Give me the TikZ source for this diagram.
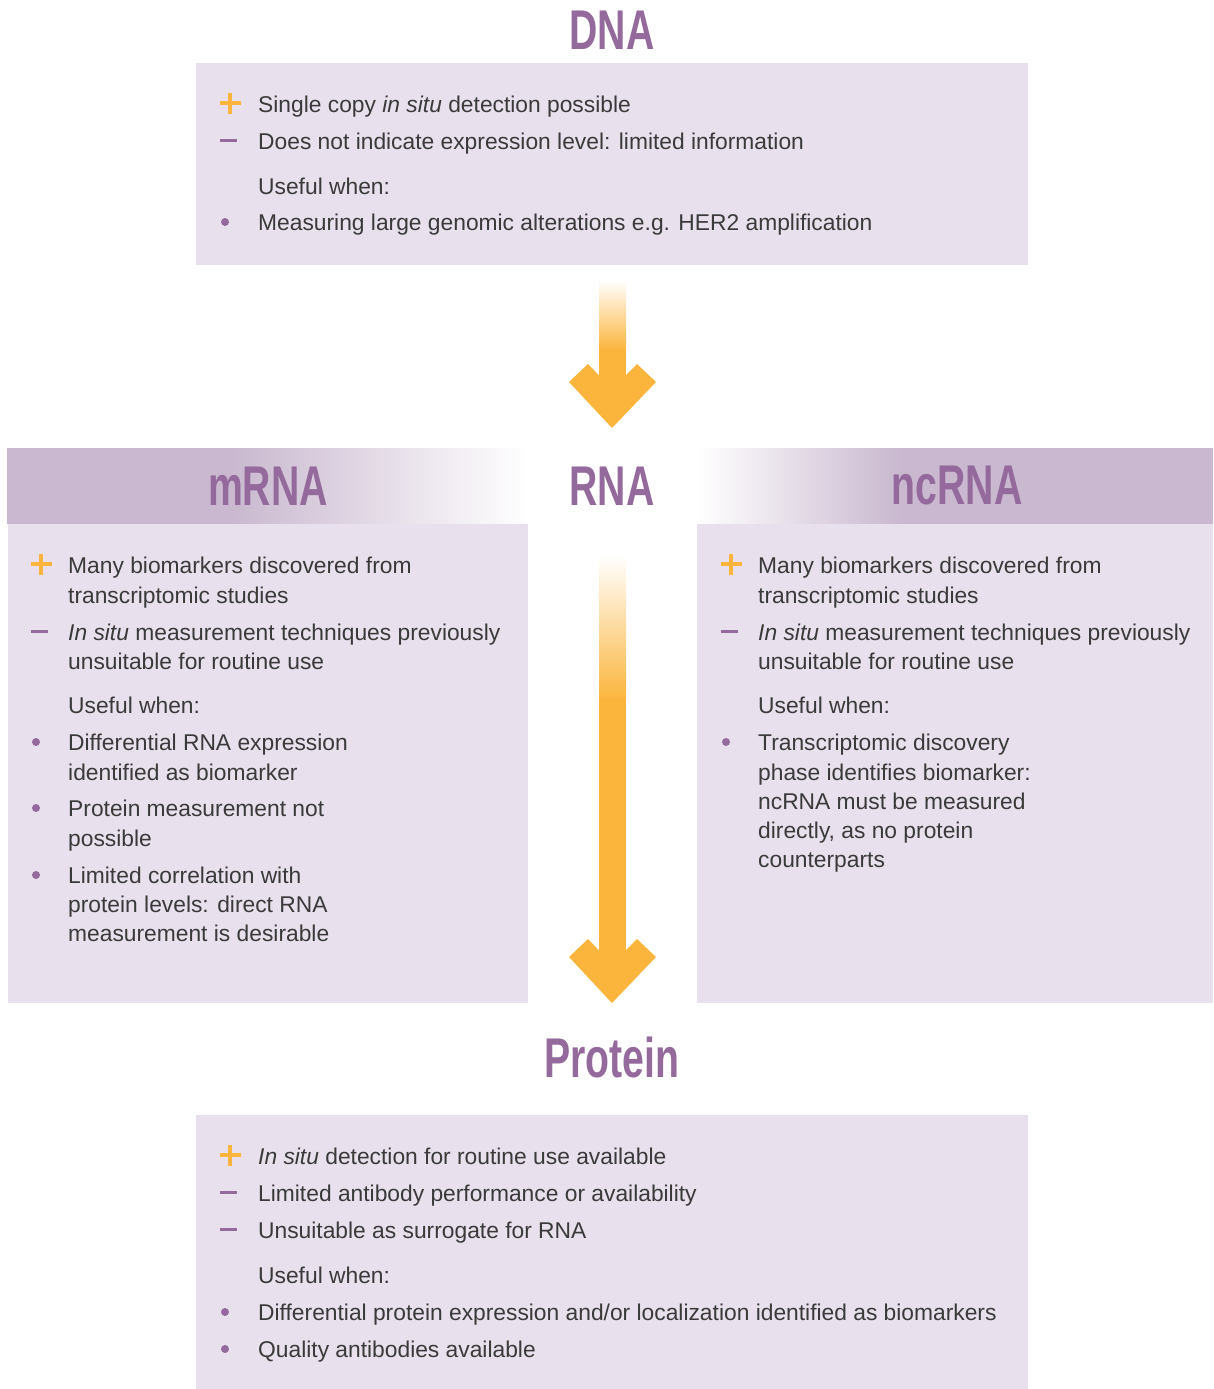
\documentclass[tikz,border=0pt]{standalone}
\usepackage{fontspec}
\setmainfont{Liberation Sans}
\newfontfamily\titlefont[FakeStretch=0.7]{Liberation Sans}
\definecolor{boxlilac}{HTML}{E8E0EC}
\definecolor{headlilac}{HTML}{C9B8CF}
\definecolor{titlepurple}{HTML}{94699B}
\definecolor{arroworange}{HTML}{FBB53D}
\definecolor{bodygray}{HTML}{3A3A3A}
\usetikzlibrary{positioning}

\tikzset{
    x=1pt, y=-1pt,
    title/.style={font=\titlefont\bfseries\fontsize{56}{60}\selectfont, text=titlepurple, inner sep=0pt},
    body/.style={font=\fontsize{22.8}{27}\selectfont, text=bodygray, anchor=mid west, inner sep=0pt, yshift=-6pt},
    plussign/.pic={\draw[arroworange, line width=4.5pt] (-10.5,0) -- (10.5,0) (0,-10.5) -- (0,10.5);},
    minussign/.pic={\draw[titlepurple, line width=3pt] (-8.5,0) -- (8.5,0);},
    dotsign/.pic={\fill[titlepurple] (0,0) circle (4);}
}

\begin{document}
\begin{tikzpicture}
    \useasboundingbox (0,0) rectangle (1213,1389);
    % boxes
    \fill[boxlilac] (196,63) rectangle (1028,265);
    \fill[boxlilac] (8,523) rectangle (528,1003);
    \fill[boxlilac] (697,523) rectangle (1213,1003);
    \fill[boxlilac] (196,1115) rectangle (1028,1389);
    % header bands
    \fill[headlilac] (7,448) rectangle (231,523.5);
    \shade[left color=headlilac, right color=white] (230,448) rectangle (528,523.5);
    \shade[left color=white, right color=headlilac] (697,448) rectangle (901,523.5);
    \fill[headlilac] (900,448) rectangle (1213,523.5);
    % arrows
    \shade[top color=white, bottom color=arroworange] (599,280) rectangle (626,350);
    \fill[arroworange] (599,349) rectangle (626,392);
    \fill[arroworange] (569,382) -- (588,364) -- (612,389) -- (637,364) -- (656,382) -- (612,428) -- cycle;
    \shade[top color=white, bottom color=arroworange] (599,555) rectangle (626,700);
    \fill[arroworange] (599,699) rectangle (626,966);
    \fill[arroworange] (569,957) -- (588,939) -- (612,964) -- (637,939) -- (656,957) -- (612,1003) -- cycle;
    % titles
    \node[title] (dna) at (612,30) {DNA};
    \node[title] (mrna) at (268,486) {mRNA};
    \node[title] (rna) at (612,486) {RNA};
    \node[title] (ncrna) at (957,486) {ncRNA};
    \node[title] (protein) at (612,1057) {Protein};
    % DNA
    \foreach \y/\t in {104/{Single copy \textit{in situ} detection possible},
                       141/{Does not indicate expression level: limited information},
                       186/{Useful when:},
                       222/{Measuring large genomic alterations e.g. HER2 amplification}} {
        \node[body] (dna-\y) at (258,\y) {\t};
    }
    \pic at (230,103) {plussign};
    \pic at (228,140) {minussign};
    \pic at (225,222) {dotsign};
    % mRNA
    \foreach \y/\t in {565/{Many biomarkers discovered from},
                       595/{transcriptomic studies},
                       632/{\textit{In situ} measurement techniques previously},
                       661/{unsuitable for routine use},
                       705/{Useful when:},
                       742/{Differential RNA expression},
                       772/{identified as biomarker},
                       808/{Protein measurement not},
                       838/{possible},
                       875/{Limited correlation with},
                       904/{protein levels: direct RNA},
                       933/{measurement is desirable}} {
        \node[body] (mrna-\y) at (68,\y) {\t};
    }
    \pic at (41,564) {plussign};
    \pic at (39,631) {minussign};
    \foreach \y in {742,808,875} \pic at (36,\y) {dotsign};
    % ncRNA
    \foreach \y/\t in {565/{Many biomarkers discovered from},
                       595/{transcriptomic studies},
                       632/{\textit{In situ} measurement techniques previously},
                       661/{unsuitable for routine use},
                       705/{Useful when:},
                       742/{Transcriptomic discovery},
                       772/{phase identifies biomarker:},
                       801/{ncRNA must be measured},
                       830/{directly, as no protein},
                       859/{counterparts}} {
        \node[body] (ncrna-\y) at (758,\y) {\t};
    }
    \pic at (731,564) {plussign};
    \pic at (729,631) {minussign};
    \pic at (726,742) {dotsign};
    % Protein
    \foreach \y/\t in {1156/{\textit{In situ} detection for routine use available},
                       1193/{Limited antibody performance or availability},
                       1230/{Unsuitable as surrogate for RNA},
                       1275/{Useful when:},
                       1312/{Differential protein expression and/or localization identified as biomarkers},
                       1349/{Quality antibodies available}} {
        \node[body] (protein-\y) at (258,\y) {\t};
    }
    \pic at (230,1155) {plussign};
    \foreach \y in {1192,1229} \pic at (228,\y) {minussign};
    \foreach \y in {1312,1349} \pic at (225,\y) {dotsign};
\end{tikzpicture}
\end{document}
